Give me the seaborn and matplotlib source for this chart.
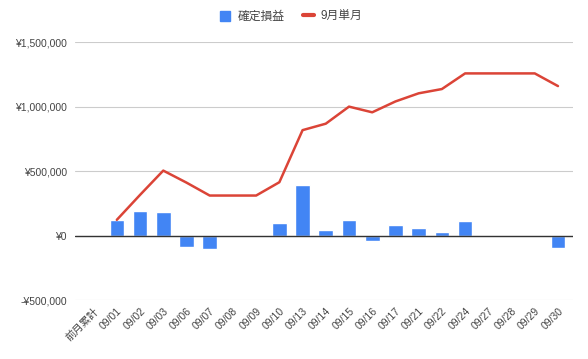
import numpy as np
import pandas as pd
import matplotlib
matplotlib.use('Agg')
import matplotlib.pyplot as plt
import matplotlib.patches as mpatches
from matplotlib.lines import Line2D
import matplotlib.ticker as mticker
import seaborn as sns

# data (yen)
dates = ['前月累計', '09/01', '09/02', '09/03', '09/06', '09/07', '09/08', '09/09',
         '09/10', '09/13', '09/14', '09/15', '09/16', '09/17', '09/21', '09/22',
         '09/24', '09/27', '09/28', '09/29', '09/30']
realized = [0, 124000, 193000, 185000, -90000, -100000, 0, 0,
            100000, 394000, 46000, 124000, -40000, 85000, 62000, 31000,
            116000, 0, 0, 0, -95000]
month_total = [np.nan, 124000, 317000, 505000, 412000, 312000, 312000, 312000,
               415000, 818000, 868000, 1000000, 956000, 1040000, 1103000, 1136000,
               1257000, 1257000, 1257000, 1257000, 1159000]

BAR_COLOR = '#4285F4'
LINE_COLOR = '#DB4437'
TEXT_COLOR = '#444444'

sns.set_style('white')
plt.rcParams['font.family'] = ['Liberation Sans', 'Noto Sans CJK JP', 'DejaVu Sans']

df = pd.DataFrame({'date': dates, 'realized': realized, 'total': month_total})
df['pos'] = np.arange(len(df))

fig = plt.figure(figsize=(5.88, 3.59), dpi=100)
ax = fig.add_axes([0.1276, 0.163, 0.847, 0.72])

sns.barplot(data=df, x='date', y='realized', order=dates, color=BAR_COLOR,
            width=0.63, saturation=1, ax=ax, zorder=3)
sns.lineplot(data=df, x='pos', y='total', color=LINE_COLOR, linewidth=1.8,
             ax=ax, zorder=4)

ax.set_ylim(-500000, 1500000)
ax.set_xlim(-0.8, len(dates) - 1 + 0.65)
ax.yaxis.set_major_locator(mticker.MultipleLocator(500000))
ax.yaxis.set_major_formatter(mticker.FuncFormatter(
    lambda v, p: ('-' if v < 0 else '') + '¥{:,.0f}'.format(abs(v))))
ax.grid(axis='y', color='#cccccc', linewidth=0.8, zorder=0)
ax.axhline(0, color='#333333', linewidth=1.0, zorder=5)
for s in ax.spines.values():
    s.set_visible(False)

ax.set_xticks(df['pos'])
ax.set_xticklabels(dates, rotation=45, ha='right', rotation_mode='anchor',
                   fontsize=7.5, color=TEXT_COLOR)
ax.tick_params(axis='y', labelsize=7.5, labelcolor=TEXT_COLOR, length=0, pad=6)
ax.tick_params(axis='x', length=0, pad=4)
ax.set_xlabel('')
ax.set_ylabel('')

handles = [mpatches.Patch(color=BAR_COLOR, label='確定損益'),
           Line2D([0], [0], color=LINE_COLOR, linewidth=3, label='9月単月')]
fig.legend(handles=handles, loc='center', bbox_to_anchor=(0.495, 0.953), ncol=2,
           frameon=False, fontsize=8.5, handlelength=0.9, handleheight=0.9,
           columnspacing=1.6, handletextpad=0.6, labelcolor=TEXT_COLOR)

fig.savefig('out.png', dpi=100)
